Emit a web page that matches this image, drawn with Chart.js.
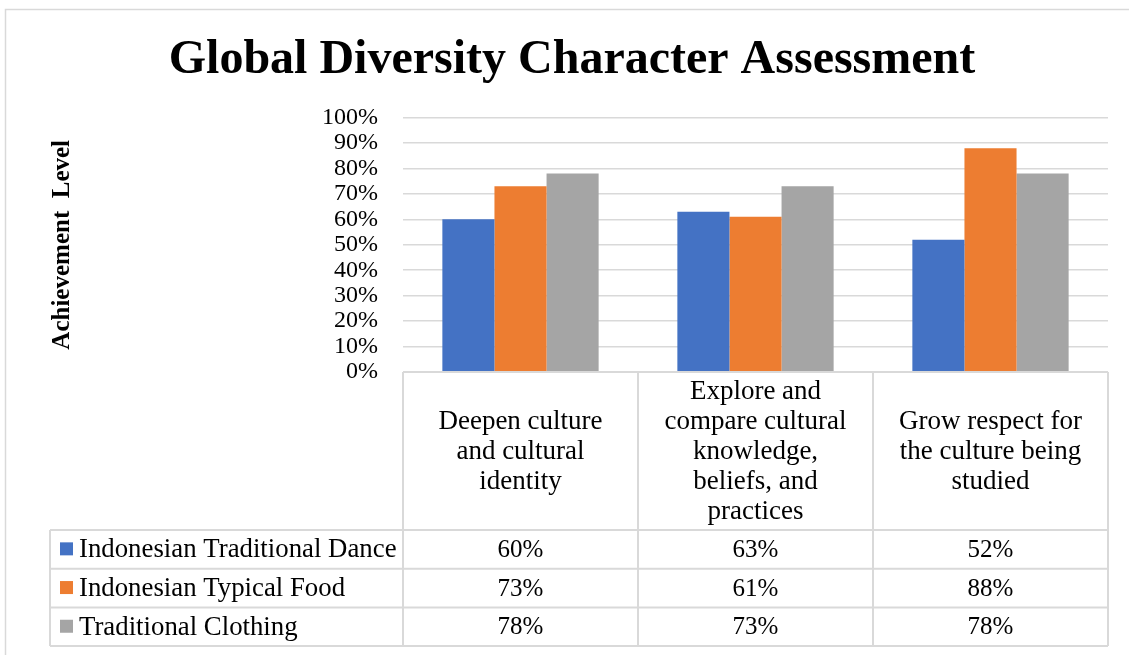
<!DOCTYPE html>
<html>
<head>
<meta charset="utf-8">
<title>Global Diversity Character Assessment</title>
<script src="https://cdn.jsdelivr.net/npm/chart.js@4.4.1/dist/chart.umd.min.js"></script>
<style>
  body { margin: 0; background: #fff; }
  canvas { display: block; }
</style>
</head>
<body>
<canvas class="chart" width="1129" height="655"></canvas>
<script>
// datos del grafico
var categorias = [
  ["Deepen culture", "and cultural", "identity"],
  ["Explore and", "compare cultural", "knowledge,", "beliefs, and", "practices"],
  ["Grow respect for", "the culture being", "studied"]
];
var series = ["Indonesian Traditional Dance", "Indonesian Typical Food", "Traditional Clothing"];
var danza = [60, 63, 52];
var comida = [73, 61, 88];
var ropa = [78, 73, 78];
var ticksY = [0, 10, 20, 30, 40, 50, 60, 70, 80, 90, 100];

var colores = ["#4472C4", "#ED7D31", "#A5A5A5"];
var fuente = "'Liberation Serif', 'Times New Roman', serif";
var gris = "#d9d9d9";

// tabla de datos bajo el grafico (como en Excel)
var tablaPlugin = {
  id: "tabla",
  beforeDraw: function(chart) {
    var ctx = chart.ctx;
    ctx.save();
    ctx.fillStyle = "#fff";
    ctx.fillRect(0, 0, chart.width, chart.height);
    ctx.strokeStyle = gris;
    ctx.lineWidth = 1.5;
    ctx.strokeRect(5.5, 9.5, chart.width + 20, chart.height + 20);
    ctx.restore();
  },
  afterDraw: function(chart) {
    var ctx = chart.ctx;
    var area = chart.chartArea;
    var x = chart.scales.x;
    var n = categorias.length;
    var colW = (area.right - area.left) / n;
    var top = area.bottom;
    var headBottom = top + 158;
    var rowH = 38.7;
    var legendLeft = 50;
    var bottom = headBottom + rowH * series.length;
    var filas = [danza, comida, ropa];

    ctx.save();
    ctx.strokeStyle = gris;
    ctx.lineWidth = 2;
    ctx.beginPath();
    // lineas horizontales
    ctx.moveTo(area.left, top); ctx.lineTo(area.right, top);
    for (var r = 0; r <= series.length; r++) {
      var yy = headBottom + rowH * r;
      ctx.moveTo(legendLeft, yy); ctx.lineTo(area.right, yy);
    }
    // lineas verticales
    ctx.moveTo(legendLeft, headBottom); ctx.lineTo(legendLeft, bottom);
    for (var c = 0; c <= n; c++) {
      var xx = area.left + colW * c;
      ctx.moveTo(xx, top); ctx.lineTo(xx, bottom);
    }
    ctx.stroke();

    ctx.fillStyle = "#000";
    ctx.font = "27px " + fuente;
    ctx.textAlign = "center";
    ctx.textBaseline = "middle";
    var headMid = (top + headBottom) / 2;
    var lh = 30;
    for (var i = 0; i < n; i++) {
      var cx = x.getPixelForValue(i);
      var lineas = categorias[i];
      var y0 = headMid - (lineas.length - 1) * lh / 2 + 1;
      for (var k = 0; k < lineas.length; k++) {
        ctx.fillText(lineas[k], cx, y0 + k * lh);
      }
    }

    for (var s = 0; s < series.length; s++) {
      var cy = headBottom + rowH * s + rowH / 2;
      ctx.fillStyle = colores[s];
      ctx.fillRect(60, cy - 7, 13, 13);
      ctx.fillStyle = "#000";
      ctx.textAlign = "left";
      ctx.font = "26.8px " + fuente;
      ctx.fillText(series[s], 79, cy + 1);
      ctx.textAlign = "center";
      ctx.font = "25px " + fuente;
      for (var j = 0; j < n; j++) {
        ctx.fillText(filas[s][j] + "%", x.getPixelForValue(j), cy + 1);
      }
    }
    ctx.restore();
  }
};

var datos = {
  type: "bar",
  data: {
    labels: categorias,
    datasets: [
      { label: series[0], data: danza, backgroundColor: colores[0] },
      { label: series[1], data: comida, backgroundColor: colores[1] },
      { label: series[2], data: ropa, backgroundColor: colores[2] }
    ]
  },
  options: {
    responsive: false,
    animation: false,
    datasets: { bar: { categoryPercentage: 0.665, barPercentage: 1 } },
    layout: { padding: { left: 36, right: 21, top: 0, bottom: 0 } },
    plugins: {
      legend: { display: false },
      tooltip: { enabled: false },
      title: {
        display: true,
        text: "Global Diversity Character Assessment",
        color: "#000",
        font: { family: fuente, size: 48, weight: "bold" },
        padding: { top: 32, bottom: 28 }
      }
    },
    scales: {
      x: {
        ticks: { display: false },
        grid: { display: false },
        border: { display: false },
        afterFit: function(scale) { scale.height = 283; }
      },
      y: {
        min: 0,
        max: 100,
        afterBuildTicks: function(scale) {
          scale.ticks = ticksY.map(function(v) { return { value: v }; });
        },
        ticks: {
          autoSkip: false,
          padding: 25,
          color: "#000",
          font: { family: fuente, size: 24 },
          callback: function(v) { return v + "%"; }
        },
        grid: { color: gris, lineWidth: 1.5, drawTicks: false },
        border: { display: false },
        title: {
          display: true,
          text: "Achievement  Level",
          color: "#000",
          font: { family: fuente, size: 25, weight: "bold" },
          padding: { top: 12, bottom: 0 }
        },
        afterFit: function(scale) { scale.width = 367; }
      }
    }
  },
  plugins: [tablaPlugin]
};

var ctx = document.querySelector(".chart").getContext("2d");
window.barras = new Chart(ctx, datos);
</script>
</body>
</html>
